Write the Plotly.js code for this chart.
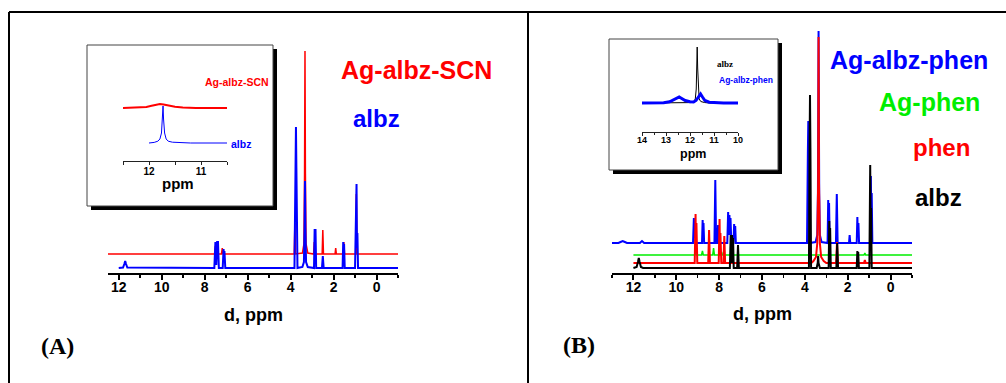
<!DOCTYPE html>
<html>
<head>
<meta charset="utf-8">
<script src="https://cdn.plot.ly/plotly-3.0.1.min.js"></script>
<style>html,body{margin:0;padding:0;background:#fff;}#chart{width:1006px;height:383px;}</style>
</head>
<body>
<div id="chart"></div>
<script>
// ---------------- DATA (ppm, intensity relative to each trace's baseline) ----------------
// Panel A main spectra
var A_albz_ppm = [12.0,11.8,11.74,11.7,11.66,11.6,7.55,7.5,7.46,7.42,7.38,7.34,7.16,7.12,7.1,7.08,7.04,3.82,3.77,3.75,3.73,3.68,3.45,3.38,3.35,3.33,3.31,3.28,3.2,2.91,2.88,2.86,2.84,2.81,2.54,2.5,2.46,1.58,1.55,1.53,1.51,1.48,1.0,0.95,0.93,0.91,0.89,0.86,-1];
var A_albz_int = [0,0.5,4,7,4,0.5,0,26,3,26,26,0,0,19,8,17,0,0,100,141,100,0,1,6,40,87,40,6,1,0,39,10,39,0,0,12,0,0,26,12,24,0,0,84,84,20,35,0,0];
var A_scn_ppm = [12.5,7.54,7.5,7.46,7.43,7.39,7.22,7.18,7.14,3.83,3.8,3.77,3.45,3.38,3.35,3.33,3.31,3.28,3.2,2.93,2.9,2.87,2.53,2.5,2.47,1.93,1.9,1.87,1.55,1.52,1.49,0.97,0.94,0.91,-1];
var A_scn_int = [0,0,8,0,8,0,0,6,0,0,31,0,1,10,80,203,80,10,1,0,12,0,0,24,0,0,6,0,0,12,0,0,60,0,0];
// Panel A inset spectra
var IA_scn_ppm = [12.5,12.2,12.05,11.95,11.87,11.79,11.72,11.62,11.5,11.35,11.1,10.5];
var IA_scn_int = [0,0.3,1,2.2,3.4,4,3.5,2.3,1.2,0.4,0,0];
var IA_albz_ppm = [12.0,11.9,11.83,11.79,11.76,11.74,11.73,11.72,11.7,11.67,11.63,11.55,11.4,11.2,10.5];
var IA_albz_int = [0,0.6,1.8,4,10,24,37,24,10,4,1.8,0.8,0.3,0,0];
// Panel B main spectra
var B_agalbzphen_ppm = [13,12.7,12.6,12.5,12.4,12.3,11.7,11.6,11.5,9.22,9.18,9.15,9.13,9.1,8.8,8.77,8.75,8.73,8.7,8.22,8.18,8.14,8.08,8.05,8.02,7.62,7.58,7.55,7.52,7.49,7.47,7.43,7.33,7.3,7.28,7.25,7.22,3.9,3.86,3.84,3.82,3.78,3.5,3.42,3.39,3.36,3.33,3.3,3.22,2.94,2.91,2.89,2.87,2.84,2.55,2.51,2.47,1.94,1.91,1.88,1.58,1.55,1.53,1.5,1.47,0.96,0.92,0.9,0.88,0.85,-1];
var B_agalbzphen_int = [0,0,1,2,1,0,0,2,0,0,25,5,22,0,0,23,5,20,0,0,63,0,0,18,0,0,31,8,28,8,25,0,0,19,6,17,0,0,90,122,90,0,1,8,50,212,50,8,1,0,43,10,40,0,0,49,0,0,8,0,0,26,8,20,0,0,67,20,50,0,0];
var B_agphen_ppm = [12,9.14,9.1,9.06,8.82,8.78,8.74,8.3,8.26,8.22,7.84,7.8,7.76,1.24,1.2,1.16,-1];
var B_agphen_int = [0,0,3,0,0,4,0,0,7,0,0,3,0,0,2,0,0];
var B_phen_ppm = [12,9.14,9.1,9.08,9.06,9.02,8.51,8.47,8.43,8.02,7.98,7.96,7.94,7.9,7.8,7.76,7.72,3.7,3.6,3.48,3.42,3.38,3.36,3.34,3.3,3.24,3.12,3.0,2.54,2.5,2.46,1.24,1.2,1.16,-1];
var B_phen_int = [0,0,49,10,40,0,0,33,0,0,44,8,30,0,0,27,0,0,2,6,20,80,226,80,20,6,2,0,0,21,0,0,3,0,0];
var B_albz_ppm = [12,11.85,11.79,11.75,11.71,11.65,11.55,7.5,7.46,7.43,7.4,7.37,7.35,7.32,7.16,7.12,7.08,3.81,3.78,3.76,3.74,3.71,3.45,3.4,3.38,3.36,3.3,2.89,2.86,2.84,2.82,2.79,2.53,2.49,2.45,1.58,1.55,1.53,1.51,1.48,0.99,0.95,0.93,0.91,0.88,-1];
var B_albz_int = [0,1,6,10,6,1,0,0,33,5,33,5,30,0,0,23,0,0,120,173,120,0,0,5,12,5,0,0,47,10,40,0,0,25,0,0,17,5,16,0,0,103,30,60,0,0];
// Panel B inset spectra
var IB_agalbzphen_ppm = [14,13.5,13.1,12.85,12.65,12.5,12.45,12.38,12.2,12.0,11.85,11.75,11.65,11.56,11.48,11.38,11.2,11.0,10.6,10];
var IB_agalbzphen_int = [0,0,0.3,1.2,3.5,5.5,6,5,2.5,1.2,1,2.5,6,9,6,2.5,0.8,0.3,0,0];
var IB_albz_ppm = [14,12.2,11.95,11.85,11.78,11.74,11.72,11.7,11.68,11.66,11.62,11.55,11.4,11.2,10];
var IB_albz_int = [0,0,0.4,1.2,4,14,35,56,35,14,4,1.5,0.5,0,0];

// Stacking offsets (baseline of each trace)
var offsets = {A_albz:5, A_scn:19, IA_scn:53, IA_albz:18, B_agalbzphen:30, B_agphen:18, B_phen:10, B_albz:5, IB:29};

// Tick labels
var insetA_tickvals = [12.5,12,11.5,11,10.5];
var insetA_ticktext = ['','12','','11',''];

// ---------------- LAYOUT HELPERS ----------------
var W = 1006, H = 383;
function px(x){ return x / W; }
function py(y){ return 1 - y / H; }
function shift(arr, off){ return arr.map(function(v){ return v + off; }); }

var RED = '#ff0000', BLUE = '#0000ff', GREEN = '#00ee00', BLACK = '#000000';
var SANS = 'Liberation Sans, Arial, sans-serif';
var SERIF = 'Liberation Serif, Times New Roman, serif';

function line(x, y, color, width, xa, ya){
  return {type:'scatter', mode:'lines', x:x, y:y, xaxis:xa, yaxis:ya,
          line:{color:color, width:width}, hoverinfo:'skip', showlegend:false};
}

var traces = [
  line(A_scn_ppm, shift(A_scn_int, offsets.A_scn), RED, 1.5, 'x', 'y'),
  line(A_albz_ppm, shift(A_albz_int, offsets.A_albz), BLUE, 2, 'x', 'y'),
  line(IA_scn_ppm, shift(IA_scn_int, offsets.IA_scn), RED, 2, 'x2', 'y2'),
  line(IA_albz_ppm, shift(IA_albz_int, offsets.IA_albz), BLUE, 1, 'x2', 'y2'),
  line(B_agalbzphen_ppm, shift(B_agalbzphen_int, offsets.B_agalbzphen), BLUE, 2, 'x3', 'y3'),
  line(B_agphen_ppm, shift(B_agphen_int, offsets.B_agphen), GREEN, 1.5, 'x3', 'y3'),
  line(B_phen_ppm, shift(B_phen_int, offsets.B_phen), RED, 2, 'x3', 'y3'),
  line(B_albz_ppm, shift(B_albz_int, offsets.B_albz), BLACK, 2, 'x3', 'y3'),
  line(IB_albz_ppm, shift(IB_albz_int, offsets.IB), BLACK, 1, 'x4', 'y4'),
  line(IB_agalbzphen_ppm, shift(IB_agalbzphen_int, offsets.IB), BLUE, 3, 'x4', 'y4')
];

function mainX(d0, d1, range, anchor){
  return {domain:[px(d0), px(d1)], range:range, anchor:anchor, showline:true, linecolor:'black', linewidth:2,
          ticks:'outside', ticklen:5, tickwidth:2, tickcolor:'black', tick0:0, dtick:2,
          minor:{dtick:1, ticks:'outside', ticklen:3, tickwidth:1.5, tickcolor:'black'},
          ticklabelstandoff:-5,
          tickfont:{family:SANS, size:14, color:'black', weight:'bold'},
          showgrid:false, zeroline:false, fixedrange:true};
}
function hiddenY(d0, d1, range, anchor){
  return {domain:[py(d1), py(d0)], range:range, anchor:anchor, visible:false, fixedrange:true, showgrid:false, zeroline:false};
}

var layout = {
  width: W, height: H,
  margin:{l:0, r:0, t:0, b:0},
  paper_bgcolor:'white', plot_bgcolor:'rgba(0,0,0,0)',
  showlegend:false,
  xaxis: mainX(108, 398, [12.5, -1], 'y'),
  yaxis: hiddenY(40, 273, [0, 233], 'x'),
  xaxis2: {domain:[px(123), px(227)], range:[12.5, 10.5], anchor:'y2', showline:true, linecolor:'#222', linewidth:1,
           ticks:'outside', ticklen:3, tickwidth:1, tickcolor:'#222', tickmode:'array',
           tickvals:insetA_tickvals, ticktext:insetA_ticktext, ticklabelstandoff:-2,
           tickfont:{family:SANS, size:10, color:'black', weight:'bold'}, showgrid:false, zeroline:false, fixedrange:true},
  yaxis2: hiddenY(90, 161, [0, 71], 'x2'),
  xaxis3: mainX(612, 912, [13, -1], 'y3'),
  yaxis3: hiddenY(25, 273, [0, 248], 'x3'),
  xaxis4: {domain:[px(642), px(738)], range:[14, 10], anchor:'y4', showline:true, linecolor:'#222', linewidth:1,
           ticks:'outside', ticklen:3, tickwidth:1, tickcolor:'#222', tick0:10, dtick:1,
           minor:{dtick:0.5, ticks:'outside', ticklen:2, tickwidth:1, tickcolor:'#222'},
           ticklabelstandoff:-4,
           tickfont:{family:SANS, size:9, color:'black', weight:'bold'}, showgrid:false, zeroline:false, fixedrange:true},
  yaxis4: hiddenY(44, 132, [0, 88], 'x4'),
  shapes: [
    {type:'line', xref:'paper', yref:'paper', x0:px(9), x1:1, y0:py(12), y1:py(12), line:{color:'black', width:2}},
    {type:'line', xref:'paper', yref:'paper', x0:px(9), x1:px(9), y0:py(12), y1:0, line:{color:'black', width:2}},
    {type:'line', xref:'paper', yref:'paper', x0:px(528), x1:px(528), y0:py(12), y1:0, line:{color:'black', width:2}},
    {type:'rect', layer:'below', xref:'paper', yref:'paper', x0:px(91), x1:px(277), y0:py(210), y1:py(49), fillcolor:'black', line:{width:0}},
    {type:'rect', layer:'below', xref:'paper', yref:'paper', x0:px(87), x1:px(273), y0:py(206), y1:py(45), fillcolor:'white', line:{color:'#444', width:1}},
    {type:'rect', layer:'below', xref:'paper', yref:'paper', x0:px(613), x1:px(782), y0:py(174), y1:py(43), fillcolor:'black', line:{width:0}},
    {type:'rect', layer:'below', xref:'paper', yref:'paper', x0:px(609), x1:px(778), y0:py(170), y1:py(39), fillcolor:'white', line:{color:'#444', width:1}}
  ],
  annotations: []
};

function label(text, x, y, size, color, family, xanchor){
  layout.annotations.push({text:text, xref:'paper', yref:'paper', x:px(x), y:py(y),
    xanchor:xanchor || 'center', yanchor:'middle', showarrow:false,
    font:{family:family || SANS, size:size, color:color, weight:'bold'}});
}
// Panel A labels
label('Ag-albz-SCN', 416, 70, 25, RED);
label('albz', 376, 118, 24, BLUE);
label('Ag-albz-SCN', 237, 82, 10.5, RED);
label('albz', 229, 144, 10.5, BLUE, SANS, 'left');
label('ppm', 178, 184, 15, 'black');
label('d, ppm', 253, 315, 18, 'black');
label('(A)', 57, 346, 24, 'black', SERIF);
// Panel B labels
label('Ag-albz-phen', 909, 60, 25, BLUE);
label('Ag-phen', 929, 102, 25, GREEN);
label('phen', 941, 147, 24, RED);
label('albz', 938, 197, 24, BLACK);
label('albz', 725, 64, 9, BLACK, SERIF);
label('Ag-albz-phen', 746, 80, 8.5, BLUE);
label('ppm', 693, 154, 12.5, 'black');
label('d, ppm', 762, 314, 18, 'black');
label('(B)', 579, 345, 24, 'black', SERIF);

Plotly.newPlot('chart', traces, layout, {staticPlot:true, displayModeBar:false});
</script>
</body>
</html>
